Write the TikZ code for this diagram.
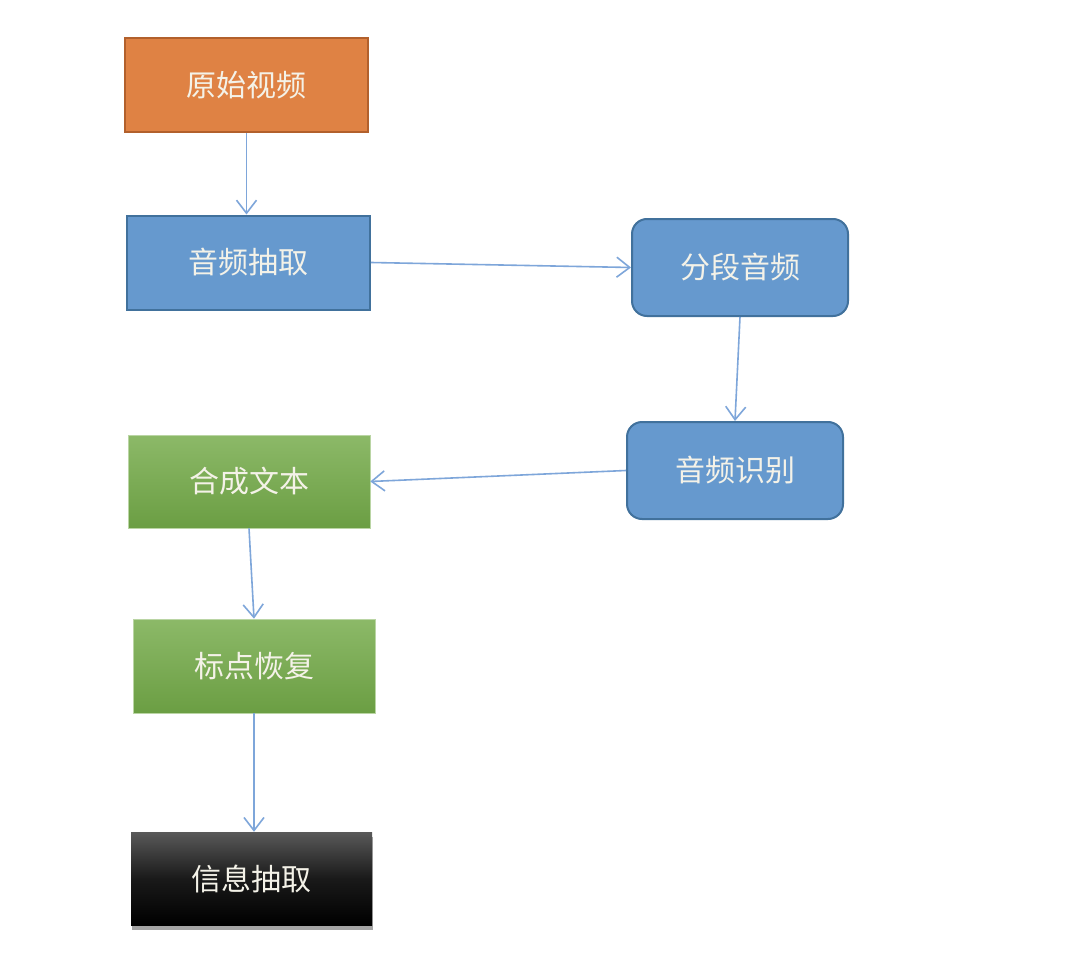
\documentclass[tikz,border=0pt]{standalone}
\usepackage{fontspec}
\setmainfont{Noto Sans CJK SC}
\usetikzlibrary{arrows.meta,shadows}
\definecolor{orfill}{HTML}{DF8244}
\definecolor{ordraw}{HTML}{B2602C}
\definecolor{blfill}{HTML}{6699CE}
\definecolor{bldraw}{HTML}{41719C}
\definecolor{grtop}{HTML}{8CB968}
\definecolor{grbot}{HTML}{6B9E43}
\definecolor{arr}{HTML}{7EA6DA}
\definecolor{txt}{HTML}{F4F2E8}
\tikzset{
  box/.style={rectangle, minimum width=243pt, minimum height=94pt, inner sep=0pt,
    text=txt, font=\fontsize{30}{32}\selectfont},
  orangebox/.style={box, fill=orfill, draw=ordraw, line width=2.2pt},
  bluebox/.style={box, fill=blfill, draw=bldraw, line width=2pt},
  roundbox/.style={box, fill=blfill, draw=bldraw, line width=2pt, rounded corners=15pt,
    minimum width=216pt, minimum height=97pt},
  greenbox/.style={box, top color=grtop, bottom color=grbot, draw=grtop!60!white, line width=0.6pt},
  blackbox/.style={box, top color=black!65, bottom color=black, middle color=black!90,
    drop shadow={shadow xshift=1pt, shadow yshift=-5pt, opacity=0.5, fill=black!70}},
  conn/.style={draw=arr, line width=1.6pt, -{Straight Barb[length=13pt,width=20pt,line width=1.6pt]}}
}
\begin{document}
\begin{tikzpicture}[x=1pt,y=-1pt]
\useasboundingbox[fill=white] (0,0) rectangle (1080,974);
\node[orangebox] (video) at (246.5,85) {原始视频};
\node[bluebox] (extract) at (248.5,262.5) {音频抽取};
\node[roundbox] (seg) at (740,267.5) {分段音频};
\node[roundbox] (rec) at (735,470.5) {音频识别};
\node[greenbox, minimum width=242pt, minimum height=93pt] (syn) at (249,481.5) {合成文本};
\node[greenbox, minimum width=242pt, minimum height=94pt] (punc) at (254,666) {标点恢复};
\node[blackbox, minimum width=241pt, minimum height=93pt] (info) at (251.5,878.5) {信息抽取};
\draw[conn] (video.south) -- (video.south |- extract.north);
\draw[conn] (extract.east) -- (seg.west);
\draw[conn] (seg.south) -- (rec.north);
\draw[conn] (rec.west) -- (syn.east);
\draw[conn] (syn.south) -- (punc.north);
\draw[conn] (punc.south) -- (punc.south |- info.north);
\end{tikzpicture}
\end{document}
